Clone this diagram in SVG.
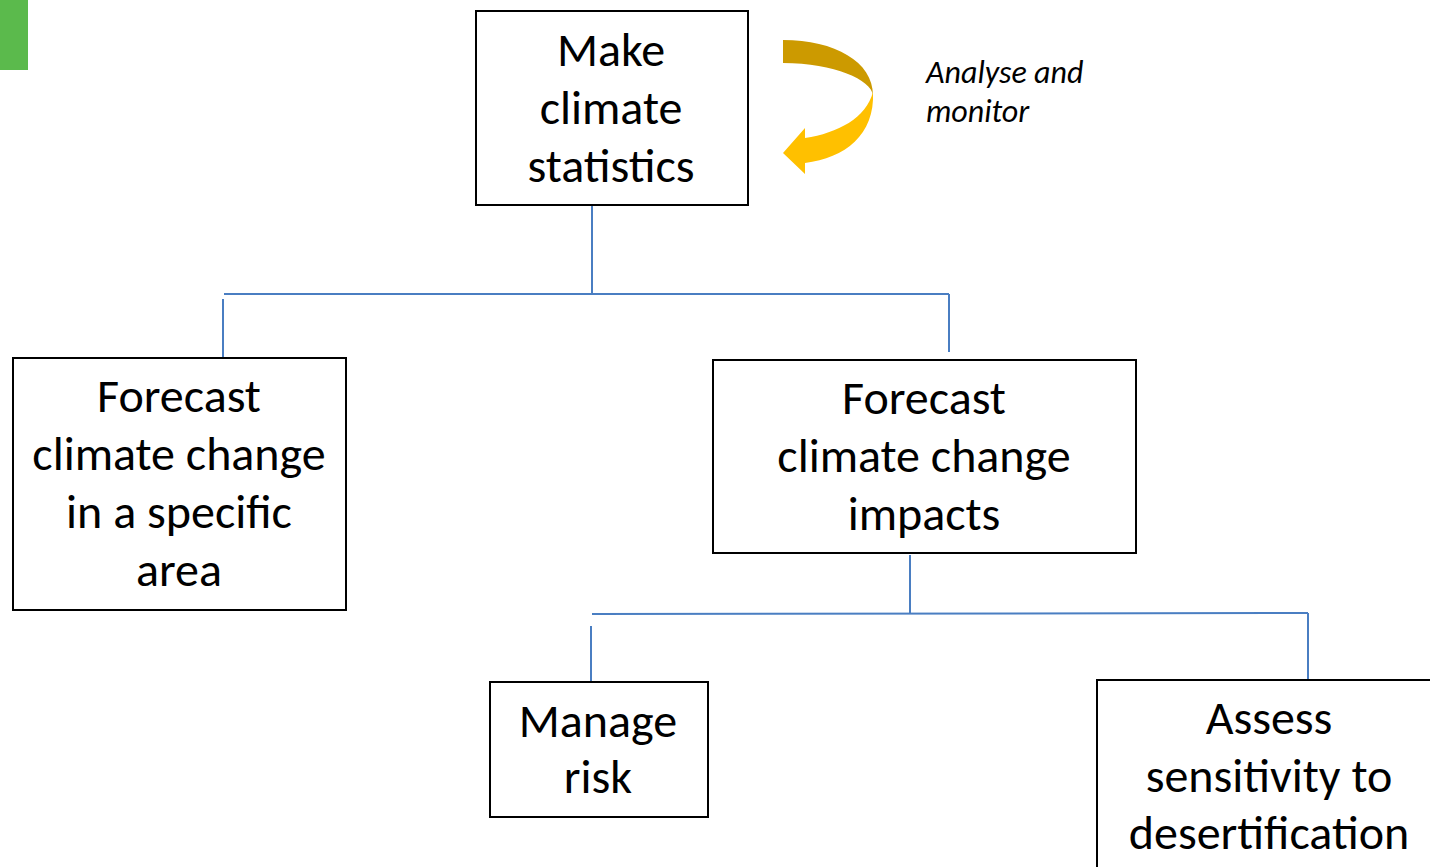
<svg xmlns="http://www.w3.org/2000/svg" width="1430" height="867" viewBox="0 0 1430 867">
<style>
.box{fill:#fff;stroke:#000;stroke-width:2}
.t{font-family:Carlito,Lato,"Open Sans",sans-serif;font-size:48px;fill:#000;text-anchor:middle}
.it{font-family:Carlito,Lato,"Open Sans",sans-serif;font-size:32px;font-style:italic;fill:#000}
.c{fill:none;stroke:#4A7EC2;stroke-width:2}
</style>
<rect x="0" y="0" width="28" height="70" fill="#5BBA4C"/>
<g id="connectors">
<path class="c" d="M592,206 V294 M224,294 H949 M223,299 V357 M949,294 V352"/>
<path class="c" d="M910,555 V613 M592,614 L1308,613 M591,626 V681 M1308,613 V680"/>
</g>
<g id="loop-arrow">
<path d="M783,40 C835,40 873,62 873,95 C871,80 835,63 783,63 Z" fill="#CC9A00"/>
<path d="M873,92 C875,135 845,158 805,163 L805,174 L783,153 L805,128 L805,138 C838,133 866,118 873,92 Z" fill="#FFC000"/>
<text class="it" x="926" y="83">Analyse and</text>
<text class="it" x="926" y="122">monitor</text>
</g>
<g id="n1">
<rect class="box" x="476" y="11" width="272" height="194"/>
<text class="t" x="611" y="66">Make</text>
<text class="t" x="611" y="124">climate</text>
<text class="t" x="611" y="182">statistics</text>
</g>
<g id="n2">
<rect class="box" x="13" y="358" width="333" height="252"/>
<text class="t" x="179" y="412">Forecast</text>
<text class="t" x="179" y="470">climate change</text>
<text class="t" x="179" y="528">in a specific</text>
<text class="t" x="179" y="586">area</text>
</g>
<g id="n3">
<rect class="box" x="713" y="360" width="423" height="193"/>
<text class="t" x="924" y="414">Forecast</text>
<text class="t" x="924" y="472">climate change</text>
<text class="t" x="924" y="530">impacts</text>
</g>
<g id="n4">
<rect class="box" x="490" y="682" width="218" height="135"/>
<text class="t" x="598" y="737">Manage</text>
<text class="t" x="598" y="793">risk</text>
</g>
<g id="n5">
<rect class="box" x="1097" y="680" width="340" height="200"/>
<text class="t" x="1269" y="734">Assess</text>
<text class="t" x="1269" y="792">sensitivity to</text>
<text class="t" x="1269" y="849">desertification</text>
</g>
</svg>
